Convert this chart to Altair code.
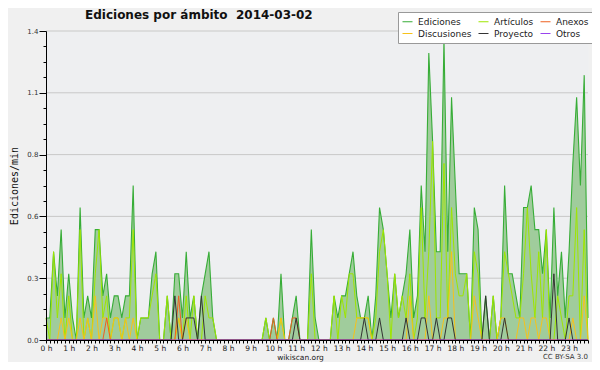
import altair as alt
import pandas as pd

# 10-minute slots of 2014-03-02 (0 = 00:00, 143 = 23:50)
slots = list(range(144))

ediciones = [
    0.1, 0.1, 0.4, 0.2, 0.5, 0.1,
    0.3, 0.1, 0.0, 0.6, 0.1, 0.2,
    0.1, 0.5, 0.5, 0.2, 0.3, 0.1,
    0.2, 0.2, 0.1, 0.2, 0.2, 0.7,
    0.0, 0.1, 0.1, 0.1, 0.3, 0.4,
    0.0, 0.0, 0.2, 0.0, 0.3, 0.3,
    0.1, 0.4, 0.1, 0.2, 0.0, 0.2,
    0.3, 0.4, 0.1, 0.0, 0.0, 0.0,
    0.0, 0.0, 0.0, 0.0, 0.0, 0.0,
    0.0, 0.0, 0.0, 0.0, 0.1, 0.0,
    0.1, 0.0, 0.3, 0.0, 0.0, 0.1,
    0.2, 0.0, 0.0, 0.0, 0.5, 0.1,
    0.0, 0.0, 0.0, 0.0, 0.2, 0.1,
    0.2, 0.2, 0.3, 0.4, 0.2, 0.1,
    0.1, 0.2, 0.0, 0.2, 0.6, 0.5,
    0.3, 0.1, 0.3, 0.1, 0.2, 0.3,
    0.5, 0.1, 0.2, 0.7, 0.4, 1.3,
    0.9, 0.4, 0.4, 1.36, 0.4, 1.1,
    0.7, 0.3, 0.3, 0.3, 0.0, 0.6,
    0.5, 0.0, 0.2, 0.0, 0.2, 0.0,
    0.1, 0.7, 0.3, 0.3, 0.2, 0.1,
    0.6, 0.6, 0.7, 0.5, 0.5, 0.3,
    0.5, 0.1, 0.6, 0.2, 0.4, 0.1,
    0.4, 0.8, 1.1, 0.7, 1.2, 0.1,
]

articulos = [
    0.1, 0.0, 0.4, 0.1, 0.3, 0.0,
    0.2, 0.0, 0.0, 0.5, 0.0, 0.1,
    0.0, 0.3, 0.5, 0.1, 0.2, 0.0,
    0.1, 0.1, 0.0, 0.1, 0.1, 0.5,
    0.0, 0.1, 0.1, 0.1, 0.2, 0.3,
    0.0, 0.0, 0.2, 0.0, 0.0, 0.1,
    0.0, 0.2, 0.0, 0.2, 0.0, 0.0,
    0.2, 0.1, 0.1, 0.0, 0.0, 0.0,
    0.0, 0.0, 0.0, 0.0, 0.0, 0.0,
    0.0, 0.0, 0.0, 0.0, 0.1, 0.0,
    0.0, 0.0, 0.1, 0.0, 0.0, 0.0,
    0.0, 0.0, 0.0, 0.0, 0.3, 0.0,
    0.0, 0.0, 0.0, 0.0, 0.2, 0.0,
    0.2, 0.1, 0.3, 0.3, 0.1, 0.1,
    0.1, 0.1, 0.0, 0.1, 0.4, 0.5,
    0.3, 0.0, 0.3, 0.1, 0.2, 0.1,
    0.3, 0.0, 0.1, 0.6, 0.1, 0.4,
    0.9, 0.1, 0.1, 0.8, 0.1, 0.6,
    0.3, 0.2, 0.2, 0.3, 0.0, 0.4,
    0.3, 0.0, 0.0, 0.0, 0.2, 0.0,
    0.1, 0.4, 0.3, 0.2, 0.1, 0.1,
    0.3, 0.6, 0.3, 0.1, 0.4, 0.1,
    0.5, 0.0, 0.0, 0.2, 0.1, 0.0,
    0.2, 0.2, 0.6, 0.0, 0.5, 0.0,
]

anexos = [
    0.0, 0.0, 0.0, 0.0, 0.0, 0.0,
    0.0, 0.0, 0.0, 0.0, 0.0, 0.0,
    0.0, 0.0, 0.0, 0.0, 0.1, 0.0,
    0.0, 0.0, 0.0, 0.0, 0.0, 0.0,
    0.0, 0.0, 0.0, 0.0, 0.0, 0.0,
    0.0, 0.0, 0.0, 0.0, 0.0, 0.2,
    0.0, 0.0, 0.0, 0.0, 0.0, 0.0,
    0.0, 0.0, 0.0, 0.0, 0.0, 0.0,
    0.0, 0.0, 0.0, 0.0, 0.0, 0.0,
    0.0, 0.0, 0.0, 0.0, 0.0, 0.0,
    0.1, 0.0, 0.0, 0.0, 0.0, 0.1,
    0.1, 0.0, 0.0, 0.0, 0.0, 0.0,
    0.0, 0.0, 0.0, 0.0, 0.0, 0.0,
    0.0, 0.0, 0.0, 0.0, 0.0, 0.0,
    0.0, 0.0, 0.0, 0.0, 0.0, 0.0,
    0.0, 0.0, 0.0, 0.0, 0.0, 0.0,
    0.0, 0.0, 0.0, 0.0, 0.0, 0.0,
    0.0, 0.0, 0.0, 0.0, 0.0, 0.0,
    0.0, 0.0, 0.0, 0.0, 0.0, 0.0,
    0.0, 0.0, 0.0, 0.0, 0.0, 0.0,
    0.0, 0.0, 0.0, 0.0, 0.0, 0.0,
    0.0, 0.0, 0.0, 0.0, 0.0, 0.0,
    0.0, 0.0, 0.0, 0.0, 0.0, 0.0,
    0.0, 0.0, 0.0, 0.0, 0.0, 0.0,
]

discusiones = [
    0.0, 0.0, 0.0, 0.0, 0.1, 0.0,
    0.1, 0.0, 0.0, 0.1, 0.0, 0.1,
    0.0, 0.2, 0.0, 0.1, 0.1, 0.0,
    0.1, 0.1, 0.0, 0.1, 0.0, 0.1,
    0.0, 0.0, 0.0, 0.0, 0.0, 0.0,
    0.0, 0.0, 0.0, 0.0, 0.0, 0.1,
    0.0, 0.1, 0.0, 0.0, 0.0, 0.0,
    0.0, 0.0, 0.0, 0.0, 0.0, 0.0,
    0.0, 0.0, 0.0, 0.0, 0.0, 0.0,
    0.0, 0.0, 0.0, 0.0, 0.0, 0.0,
    0.0, 0.0, 0.1, 0.0, 0.0, 0.0,
    0.0, 0.0, 0.0, 0.0, 0.0, 0.0,
    0.0, 0.0, 0.0, 0.0, 0.0, 0.0,
    0.0, 0.0, 0.0, 0.0, 0.1, 0.1,
    0.1, 0.1, 0.0, 0.0, 0.0, 0.0,
    0.0, 0.0, 0.0, 0.0, 0.0, 0.0,
    0.2, 0.0, 0.0, 0.0, 0.0, 0.2,
    0.0, 0.0, 0.0, 0.1, 0.1, 0.4,
    0.0, 0.0, 0.0, 0.0, 0.0, 0.2,
    0.1, 0.0, 0.0, 0.0, 0.0, 0.0,
    0.1, 0.1, 0.0, 0.0, 0.0, 0.1,
    0.1, 0.0, 0.1, 0.1, 0.0, 0.1,
    0.1, 0.0, 0.0, 0.0, 0.0, 0.0,
    0.0, 0.1, 0.0, 0.0, 0.2, 0.0,
]

proyecto = [
    0.0, 0.0, 0.0, 0.0, 0.0, 0.0,
    0.0, 0.0, 0.0, 0.0, 0.0, 0.0,
    0.0, 0.0, 0.0, 0.0, 0.0, 0.0,
    0.0, 0.0, 0.0, 0.0, 0.0, 0.0,
    0.0, 0.0, 0.0, 0.0, 0.0, 0.0,
    0.0, 0.0, 0.0, 0.0, 0.2, 0.0,
    0.0, 0.1, 0.1, 0.1, 0.0, 0.2,
    0.0, 0.0, 0.0, 0.0, 0.0, 0.0,
    0.0, 0.0, 0.0, 0.0, 0.0, 0.0,
    0.0, 0.0, 0.0, 0.0, 0.0, 0.0,
    0.0, 0.0, 0.0, 0.0, 0.0, 0.0,
    0.1, 0.0, 0.0, 0.0, 0.0, 0.0,
    0.0, 0.0, 0.0, 0.0, 0.0, 0.0,
    0.0, 0.0, 0.0, 0.0, 0.0, 0.0,
    0.1, 0.0, 0.0, 0.0, 0.1, 0.0,
    0.0, 0.0, 0.0, 0.0, 0.0, 0.1,
    0.0, 0.0, 0.0, 0.1, 0.1, 0.0,
    0.0, 0.1, 0.0, 0.0, 0.1, 0.1,
    0.0, 0.0, 0.0, 0.0, 0.0, 0.0,
    0.0, 0.0, 0.2, 0.0, 0.0, 0.0,
    0.0, 0.1, 0.0, 0.0, 0.0, 0.0,
    0.0, 0.0, 0.0, 0.0, 0.0, 0.0,
    0.0, 0.0, 0.3, 0.0, 0.0, 0.0,
    0.1, 0.0, 0.0, 0.0, 0.0, 0.0,
]

otros = [
    0.0, 0.0, 0.0, 0.0, 0.0, 0.0,
    0.0, 0.0, 0.0, 0.0, 0.0, 0.0,
    0.0, 0.0, 0.0, 0.0, 0.0, 0.0,
    0.0, 0.0, 0.0, 0.0, 0.0, 0.0,
    0.0, 0.0, 0.0, 0.0, 0.0, 0.0,
    0.0, 0.0, 0.0, 0.0, 0.0, 0.0,
    0.0, 0.0, 0.0, 0.0, 0.0, 0.0,
    0.0, 0.0, 0.0, 0.0, 0.0, 0.0,
    0.0, 0.0, 0.0, 0.0, 0.0, 0.0,
    0.0, 0.0, 0.0, 0.0, 0.0, 0.0,
    0.0, 0.0, 0.0, 0.0, 0.0, 0.0,
    0.0, 0.0, 0.0, 0.0, 0.0, 0.0,
    0.0, 0.0, 0.0, 0.0, 0.0, 0.0,
    0.0, 0.0, 0.0, 0.0, 0.0, 0.0,
    0.0, 0.0, 0.0, 0.0, 0.0, 0.0,
    0.0, 0.0, 0.0, 0.0, 0.0, 0.0,
    0.0, 0.0, 0.0, 0.0, 0.0, 0.0,
    0.0, 0.0, 0.0, 0.0, 0.0, 0.0,
    0.0, 0.0, 0.0, 0.0, 0.0, 0.0,
    0.0, 0.0, 0.0, 0.0, 0.0, 0.0,
    0.0, 0.0, 0.0, 0.0, 0.0, 0.0,
    0.0, 0.0, 0.0, 0.0, 0.0, 0.0,
    0.0, 0.0, 0.0, 0.0, 0.0, 0.0,
    0.0, 0.0, 0.0, 0.0, 0.0, 0.0,
]

names = ["Ediciones", "Artículos", "Anexos", "Discusiones", "Proyecto", "Otros"]
colors = ["#37ad37", "#9ee600", "#ee6020", "#f7c21a", "#333333", "#9944ee"]
series = [ediciones, articulos, anexos, discusiones, proyecto, otros]

y_ticks = [round(0.07 * k, 2) for k in range(21)]
y_grid = [0.28, 0.56, 0.84, 1.12, 1.4]

rows = []
for name, vals in zip(names, series):
    for s, v in zip(slots, vals):
        rows.append({"slot": s, "serie": name, "value": v})
long_df = pd.DataFrame(rows)
total_df = pd.DataFrame({"slot": slots, "value": ediciones})
grid_df = pd.DataFrame({"value": y_grid})
cc_df = pd.DataFrame({"t": ["CC BY-SA 3.0"]})
one_df = pd.DataFrame({"k": [0]})

major = "round(datum.value*100) % 28 == 0"

x = alt.X(
    "slot:Q",
    scale=alt.Scale(domain=[0, 143], nice=False, zero=False),
    axis=alt.Axis(
        values=slots,
        labelExpr="datum.value % 6 == 0 ? (datum.value / 6) + ' h' : ''",
        labelOverlap=False,
        labelFlush=False,
        tickSize=3,
        tickColor="black",
        domainColor="black",
        grid=False,
        labelFont="DejaVu Sans",
        labelFontSize=7.5,
        labelColor="#222222",
        labelPadding=1,
        title="wikiscan.org",
        titleFont="DejaVu Sans",
        titleFontSize=7.5,
        titleFontWeight="normal",
        titleColor="#222222",
        titleX=254,
        titlePadding=2,
        zindex=1,
    ),
)
y = alt.Y(
    "value:Q",
    scale=alt.Scale(domain=[0, 1.4], nice=False),
    axis=alt.Axis(
        values=y_ticks,
        labelExpr=major + " ? format(datum.value, '.1f') : ''",
        labelOverlap=False,
        labelFlush=False,
        tickSize={"condition": {"test": major, "value": 7}, "value": 3},
        tickColor="black",
        domainColor="black",
        grid=False,
        labelFont="DejaVu Sans",
        labelFontSize=7,
        labelColor="#333333",
        labelPadding=1,
        title="Ediciones/min",
        titleFont="DejaVu Sans Mono",
        titleFontSize=10,
        titleFontWeight="normal",
        titleColor="#111111",
        titlePadding=7,
        zindex=1,
    ),
)

LX, LY = 352, -19
color_scale = alt.Scale(domain=names, range=colors)
legend = alt.Legend(
    orient="none",
    direction="horizontal",
    legendX=LX,
    legendY=LY,
    columns=3,
    gridAlign="each",
    symbolType="stroke",
    symbolSize=100,
    symbolStrokeWidth=1,
    labelFont="DejaVu Sans",
    labelFontSize=9,
    labelColor="#222222",
    labelOffset=5,
    fillColor="white",
    strokeColor="#999999",
    padding=4,
    rowPadding=1,
    columnPadding=4,
)

grid = alt.Chart(grid_df).mark_rule(color="#c8c8c8", strokeWidth=1).encode(y=y)
area = alt.Chart(total_df).mark_area(color="#a0cc9c", opacity=1).encode(x=x, y=y)

draw_order = ["Ediciones", "Artículos", "Discusiones", "Anexos", "Proyecto", "Otros"]
lines = []
for n in draw_order:
    lines.append(
        alt.Chart(long_df)
        .transform_filter(alt.datum.serie == n)
        .mark_line(strokeWidth=1.1 if n == "Ediciones" else 1)
        .encode(
            x=x,
            y=y,
            color=alt.Color("serie:N", scale=color_scale, legend=legend, title=None),
        )
    )

# drop shadow of the legend box
shadow = alt.Chart(one_df).mark_rect(color="#777777").encode(
    x=alt.value(LX + 3), x2=alt.value(LX + 3 + 190),
    y=alt.value(LY + 3), y2=alt.value(LY + 3 + 29),
)

cc = alt.Chart(cc_df).mark_text(
    align="right", baseline="alphabetic", fontSize=7, font="DejaVu Sans", color="#333333"
).encode(x=alt.value(542), y=alt.value(328), text="t:N")

chart = (
    alt.layer(grid, area, *lines, shadow, cc)
    .properties(
        width=542,
        height=309,
        autosize=alt.AutoSizeParams(type="none"),
        padding={"left": 38, "top": 23, "right": 4, "bottom": 22},
        title=alt.TitleParams(
            text="Ediciones por ámbito\u00a0 2014-03-02",
            anchor="start",
            frame="group",
            dx=39,
            dy=10,
            font="DejaVu Sans",
            fontSize=12,
            fontWeight="bold",
            color="#111111",
            offset=0,
        ),
    )
    .configure(background="#f0f0f0")
    .configure_view(fill="#eeeff1", stroke="transparent")
)

chart.save("out.html", embed_options={"renderer": "svg", "actions": False})
